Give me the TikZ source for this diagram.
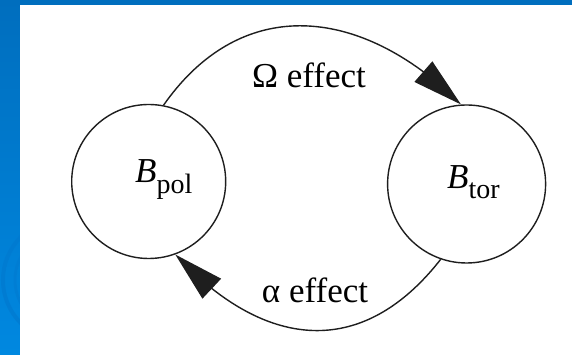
\documentclass[tikz,border=0pt]{standalone}
\usepackage{fontspec}
\setmainfont{Liberation Serif}
\usetikzlibrary{arrows.meta,bending}
\definecolor{slidetop}{RGB}{0,110,190}
\definecolor{slidebot}{RGB}{0,136,224}
\definecolor{slidearc}{RGB}{0,122,208}
\definecolor{ink}{RGB}{30,30,30}
\tikzset{
  field/.style={circle, draw=ink, line width=1.4pt, inner sep=0pt},
  effectarrow/.style={draw=ink, line width=1.4pt, -{Triangle[length=50pt,width=27pt,flex]}},
  efflabel/.style={font=\fontsize{35}{35}\selectfont, inner sep=0pt, anchor=base},
  blabel/.style={font=\fontsize{35}{35}\selectfont, inner sep=0pt, anchor=base west}
}
\begin{document}
\begin{tikzpicture}[x=1pt,y=1pt]
\useasboundingbox (0,0) rectangle (572,355);
% slide background
\shade[top color=slidetop, bottom color=slidebot] (0,0) rectangle (572,355);
\begin{scope}
\clip (0,0) rectangle (20,350);
\draw[slidearc, line width=4pt, opacity=0.7] (64,75) circle[radius=61];
\draw[slidearc, line width=3pt, opacity=0.5] (64,75) circle[radius=49];
\end{scope}
\fill[white] (20,0) rectangle (572,350);
% field nodes
\node[field, minimum size=154pt] (pol) at (148.7,173.5) {};
\node[field, minimum size=158pt] (tor) at (466.6,171) {};
\node[blabel] (polL) at (135,172) {\textit{B}\raisebox{-11pt}{\fontsize{28}{28}\selectfont pol}};
\node[blabel] (torL) at (447,166) {\textit{B}\raisebox{-10pt}{\fontsize{28}{28}\selectfont tor}};
% connectors
\draw[effectarrow] (pol.79) .. controls +(55:138) and +(135:138) .. (tor.94);
\draw[effectarrow] (tor.251) .. controls +(232:129) and +(313:129) .. (pol.290);
\node[efflabel] (omega) at (309,267) {Ω effect};
\node[efflabel] (alpha) at (315,52) {α effect};
\end{tikzpicture}
\end{document}
